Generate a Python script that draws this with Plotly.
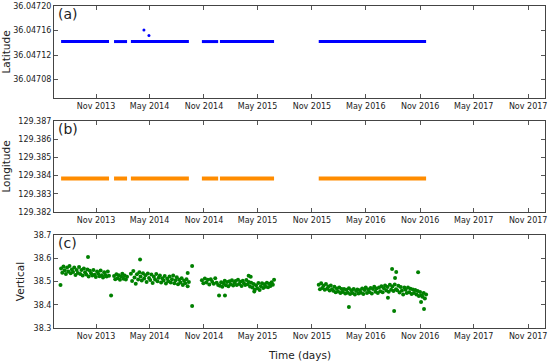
import plotly.graph_objects as go
import pandas as pd

# ---------------- data ----------------
# observation segments (start, end) read from the chart
seg_starts = ["2013-07-06", "2014-01-01", "2014-02-27", "2014-10-25", "2014-12-25", "2015-11-24"]
seg_ends = ["2013-12-15", "2014-02-14", "2014-09-11", "2014-12-19", "2015-06-26", "2016-11-21"]

lat_level = 36.047142
lat_out_dates = ["2014-04-12", "2014-04-29"]
lat_out_vals = [36.047161, 36.047152]

lon_level = 129.38384

vert_seg1 = [38.556, 38.538, 38.565, 38.548, 38.532, 38.560, 38.543, 38.567, 38.535, 38.552,
             38.541, 38.560, 38.528, 38.550, 38.537, 38.562, 38.532, 38.549, 38.526, 38.556,
             38.540, 38.530, 38.552, 38.522, 38.546, 38.535, 38.526, 38.549, 38.529, 38.519,
             38.543, 38.533, 38.523, 38.547, 38.527, 38.517, 38.540, 38.528, 38.521, 38.543, 38.525]
vert_seg2 = [38.524, 38.510, 38.531, 38.514, 38.527, 38.507, 38.522, 38.533, 38.512, 38.526, 38.509, 38.520]
vert_seg3 = [38.533, 38.502, 38.545, 38.517, 38.490, 38.531, 38.509, 38.540, 38.521, 38.504,
             38.536, 38.513, 38.527, 38.498, 38.534, 38.515, 38.506, 38.530, 38.494, 38.520,
             38.509, 38.532, 38.501, 38.516, 38.526, 38.496, 38.514, 38.504, 38.524, 38.491,
             38.512, 38.501, 38.521, 38.496, 38.510, 38.526, 38.492, 38.505, 38.518, 38.488,
             38.508, 38.496, 38.514, 38.485, 38.503, 38.492, 38.510, 38.480, 38.498]
vert_seg4 = [38.505, 38.492, 38.513, 38.496, 38.508, 38.487, 38.510, 38.499, 38.490, 38.514, 38.495, 38.485]
vert_seg5 = [38.482, 38.497, 38.477, 38.493, 38.503, 38.484, 38.498, 38.480, 38.501, 38.488,
             38.505, 38.483, 38.495, 38.502, 38.485, 38.508, 38.489, 38.499, 38.481, 38.503,
             38.493, 38.485, 38.506, 38.488, 38.498, 38.478, 38.495, 38.474, 38.489, 38.465,
             38.484, 38.471, 38.494, 38.463, 38.480, 38.492, 38.472, 38.488, 38.477, 38.495,
             38.475, 38.490, 38.481, 38.497, 38.486, 38.508]
vert_seg6 = [38.486, 38.467, 38.492, 38.472, 38.482, 38.464, 38.489, 38.469, 38.478, 38.461, 38.483, 38.467,
             38.460, 38.477, 38.454, 38.470, 38.457, 38.474, 38.451, 38.468,
             38.455, 38.468, 38.448, 38.464, 38.452, 38.471, 38.446,
             38.462, 38.451, 38.468, 38.444, 38.459, 38.466, 38.448, 38.462,
             38.452, 38.470, 38.446, 38.463, 38.474, 38.451, 38.466,
             38.455, 38.472, 38.448, 38.468, 38.477, 38.456, 38.470, 38.451,
             38.474, 38.458, 38.480, 38.454, 38.471, 38.483, 38.461,
             38.476, 38.456, 38.486, 38.465, 38.479, 38.459, 38.487, 38.467,
             38.462, 38.482, 38.453, 38.476, 38.461, 38.444, 38.474,
             38.465, 38.450, 38.474, 38.454, 38.469, 38.446, 38.466, 38.451,
             38.463, 38.444, 38.459, 38.438, 38.455, 38.441, 38.434,
             38.450, 38.427, 38.444]
vert_segments = [vert_seg1, vert_seg2, vert_seg3, vert_seg4, vert_seg5, vert_seg6]

vert_out_dates = ["2013-07-04", "2013-10-05", "2013-12-22", "2014-03-30", "2014-09-07", "2014-09-22",
                  "2014-09-22", "2014-12-22", "2015-01-11", "2015-04-01", "2015-04-08", "2015-04-20",
                  "2016-03-05", "2016-07-15", "2016-07-29", "2016-08-05", "2016-08-08", "2016-08-12",
                  "2016-10-25", "2016-11-04", "2016-11-14"]
vert_out_vals = [38.485, 38.605, 38.440, 38.595, 38.537, 38.567,
                 38.395, 38.440, 38.440, 38.525, 38.520, 38.457,
                 38.390, 38.430, 38.554, 38.373, 38.515, 38.541,
                 38.540, 38.412, 38.382]

tick_dates = ["2013-11-01", "2014-05-01", "2014-11-01", "2015-05-01", "2015-11-01",
              "2016-05-01", "2016-11-01", "2017-05-01", "2017-11-01"]
tick_text = ["Nov 2013", "May 2014", "Nov 2014", "May 2015", "Nov 2015",
             "May 2016", "Nov 2016", "May 2017", "Nov 2017"]
x_range = ["2013-06-12", "2017-12-28"]

lat_ticks = [36.04708, 36.04712, 36.04716, 36.04720]
lon_ticks = [129.382, 129.383, 129.384, 129.385, 129.386, 129.387]
vert_ticks = [38.3, 38.4, 38.5, 38.6, 38.7]

# ---------------- figure ----------------
fig = go.Figure()

seg_x, lat_y, lon_y = [], [], []
for s, e in zip(seg_starts, seg_ends):
    seg_x += [s, e, None]
    lat_y += [lat_level, lat_level, None]
    lon_y += [lon_level, lon_level, None]

fig.add_trace(go.Scatter(x=seg_x, y=lat_y, mode="lines", line=dict(color="#0000ff", width=3),
                         xaxis="x", yaxis="y", showlegend=False))
fig.add_trace(go.Scatter(x=lat_out_dates, y=lat_out_vals, mode="markers",
                         marker=dict(color="#0000ff", size=3), xaxis="x", yaxis="y", showlegend=False))
fig.add_trace(go.Scatter(x=seg_x, y=lon_y, mode="lines", line=dict(color="#ff8c00", width=4),
                         xaxis="x2", yaxis="y2", showlegend=False))

vx, vy = [], []
for (s, e), vals in zip(zip(seg_starts, seg_ends), vert_segments):
    vx += list(pd.date_range(s, e, periods=len(vals)))
    vy += vals
vx += list(pd.to_datetime(vert_out_dates))
vy += vert_out_vals
fig.add_trace(go.Scatter(x=vx, y=vy, mode="markers", marker=dict(color="#008000", size=4),
                         xaxis="x3", yaxis="y3", showlegend=False))

H = 322.0
dom_a = [(328 - 98) / H, 1.0]
dom_b = [(328 - 212) / H, (328 - 121) / H]
dom_c = [0.0, (328 - 235) / H]

xcommon = dict(range=x_range, type="date", tickvals=tick_dates, ticktext=tick_text,
               ticks="inside", ticklen=4, tickcolor="#555", mirror="ticks", showline=True,
               linecolor="#444", linewidth=1, showgrid=False, zeroline=False, automargin=False,
               tickfont=dict(size=8, color="#222"))
ycommon = dict(ticks="inside", ticklen=4, tickcolor="#555", mirror="ticks", showline=True,
               linecolor="#444", linewidth=1, showgrid=False, zeroline=False, automargin=False,
               tickfont=dict(size=8, color="#222"), title_font=dict(size=10.5, color="#222"),
               title_standoff=6)

fig.update_layout(
    width=550, height=364,
    margin=dict(l=54, r=5, t=6, b=36, autoexpand=False),
    paper_bgcolor="white", plot_bgcolor="white",
    font=dict(family="DejaVu Sans", color="#222"),
    xaxis=dict(domain=[0, 1], anchor="y", **xcommon),
    xaxis2=dict(domain=[0, 1], anchor="y2", **xcommon),
    xaxis3=dict(domain=[0, 1], anchor="y3", **xcommon),
    yaxis=dict(domain=dom_a, anchor="x", range=[36.04705, 36.0472], tickvals=lat_ticks,
               tickformat=".5f", title_text="Latitude", **ycommon),
    yaxis2=dict(domain=dom_b, anchor="x2", range=[129.382, 129.387], tickvals=lon_ticks,
                tickformat=".3f", title_text="Longitude", **ycommon),
    yaxis3=dict(domain=dom_c, anchor="x3", range=[38.3, 38.7], tickvals=vert_ticks,
                tickformat=".1f", title_text="Vertical", **ycommon),
)

for lab, xr, yr in [("(a)", "x domain", "y domain"), ("(b)", "x2 domain", "y2 domain"),
                    ("(c)", "x3 domain", "y3 domain")]:
    fig.add_annotation(text=lab, xref=xr, yref=yr,
                       x=0.005, y=1.02, xanchor="left", yanchor="top", showarrow=False,
                       font=dict(size=14, color="#222"))

fig.add_annotation(text="Time (days)", xref="paper", yref="paper", x=0.5, y=-(355 - 328) / H,
                   xanchor="center", yanchor="middle", showarrow=False,
                   font=dict(size=10.5, color="#222"))

fig.write_html("out.html", config={"displayModeBar": False},
               post_script="document.body.style.margin='0';document.body.style.overflow='hidden';")
